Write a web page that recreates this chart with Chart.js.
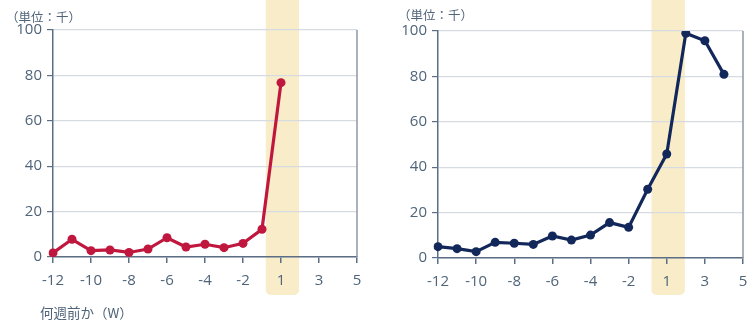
<!DOCTYPE html>
<html>
<head>
<meta charset="utf-8">
<script src="https://cdn.jsdelivr.net/npm/chart.js@4.4.1/dist/chart.umd.min.js"></script>
<style>
  body { margin: 0; background: #fff; width: 747px; height: 321px; overflow: hidden; position: relative; }
  canvas { position: absolute; top: 0; }
  #leftChart { left: 0; }
  #rightChart { left: 380px; }
  .note { position: absolute; font-family: 'Noto Sans CJK JP', sans-serif; color: #4f6479; white-space: nowrap; }
</style>
</head>
<body>
<canvas id="leftChart" width="373" height="321"></canvas>
<canvas id="rightChart" width="378" height="321"></canvas>
<div class="note" style="left:6px; top:7px; font-size:12.5px;">（単位：千）</div>
<div class="note" style="left:398px; top:5px; font-size:12.5px;">（単位：千）</div>
<div class="note" style="left:40px; top:302px; font-size:13.5px;">何週前か（W）</div>
<script>
// Weeks relative to the event (no week 0)
const WEEKS = ['-12', '-11', '-10', '-9', '-8', '-7', '-6', '-5', '-4', '-3', '-2', '-1', '1', '2', '3', '4', '5'];
const Y_TICKS = [0, 20, 40, 60, 80, 100];
const HIGHLIGHT_WEEK = '1';

// values in thousands
const LEFT_VALUES = [1.8, 7.8, 2.8, 3.1, 2.0, 3.5, 8.5, 4.4, 5.6, 4.1, 6.0, 12.2, 76.8, null, null, null, null];
const RIGHT_VALUES = [5.0, 4.1, 2.8, 6.9, 6.5, 6.0, 9.7, 7.9, 10.1, 15.6, 13.5, 30.3, 45.8, 99.0, 95.7, 80.9, null];

const AXIS_COLOR = '#5b6e84';
const TEXT_COLOR = '#4f6479';
const GRID_COLOR = '#d6dae1';
const BAND_COLOR = '#f8ecc9';

// shaded column behind the highlighted week + right frame line
const highlightPlugin = {
  id: 'highlight',
  beforeDraw(chart) {
    const x = chart.scales.x;
    const idx = WEEKS.indexOf(HIGHLIGHT_WEEK);
    const step = x.getPixelForValue(1) - x.getPixelForValue(0);
    const left = x.getPixelForValue(idx) - step * 0.8;
    const right = x.getPixelForValue(idx) + step * 0.95;
    const ctx = chart.ctx;
    ctx.save();
    ctx.fillStyle = BAND_COLOR;
    ctx.beginPath();
    ctx.roundRect(left, 0, right - left, 295, [0, 0, 5, 5]);
    ctx.fill();
    ctx.restore();
  },
  beforeDatasetsDraw(chart) {
    const a = chart.chartArea;
    const ctx = chart.ctx;
    ctx.save();
    ctx.strokeStyle = '#8c97a4';
    ctx.lineWidth = 1.5;
    ctx.beginPath();
    ctx.moveTo(a.right, a.top);
    ctx.lineTo(a.right, a.bottom);
    ctx.stroke();
    ctx.restore();
  }
};

function makeChart(id, values, color, yWidth, padding, xHeight) {
  const ctx = document.getElementById(id).getContext('2d');
  return new Chart(ctx, {
    type: 'line',
    data: {
      labels: WEEKS,
      datasets: [{
        data: values,
        borderColor: color,
        backgroundColor: color,
        borderWidth: 3.2,
        pointRadius: 4.5,
        pointBorderWidth: 0,
        tension: 0
      }]
    },
    plugins: [highlightPlugin],
    options: {
      responsive: false,
      animation: false,
      layout: { padding: padding },
      plugins: {
        legend: { display: false },
        tooltip: { enabled: false }
      },
      scales: {
        x: {
          offset: false,
          afterFit: (s) => { s.height = xHeight; },
          border: { color: AXIS_COLOR, width: 1.5 },
          grid: { drawOnChartArea: false, tickLength: 6, tickColor: AXIS_COLOR, lineWidth: 1.5 },
          ticks: {
            autoSkip: false,
            maxRotation: 0,
            padding: 9,
            color: TEXT_COLOR,
            font: { family: "'Open Sans', sans-serif", size: 15 },
            callback: (v, i) => (i % 2 === 0 ? WEEKS[i] : null)
          }
        },
        y: {
          min: Y_TICKS[0],
          max: Y_TICKS[Y_TICKS.length - 1],
          afterFit: (s) => { s.width = yWidth; },
          afterBuildTicks: (s) => { s.ticks = Y_TICKS.map(v => ({ value: v })); },
          border: { color: AXIS_COLOR, width: 1.5 },
          grid: { color: GRID_COLOR, lineWidth: 1.2, tickLength: 6, tickColor: AXIS_COLOR },
          ticks: {
            padding: 5,
            color: TEXT_COLOR,
            font: { family: "'Open Sans', sans-serif", size: 15 }
          }
        }
      }
    }
  });
}

makeChart('leftChart', LEFT_VALUES, '#c0173f', 53, { top: 30, right: 16, left: 0, bottom: 0 }, 64);
makeChart('rightChart', RIGHT_VALUES, '#12275a', 58, { top: 31, right: 15, left: 0, bottom: 0 }, 63);
</script>
</body>
</html>
